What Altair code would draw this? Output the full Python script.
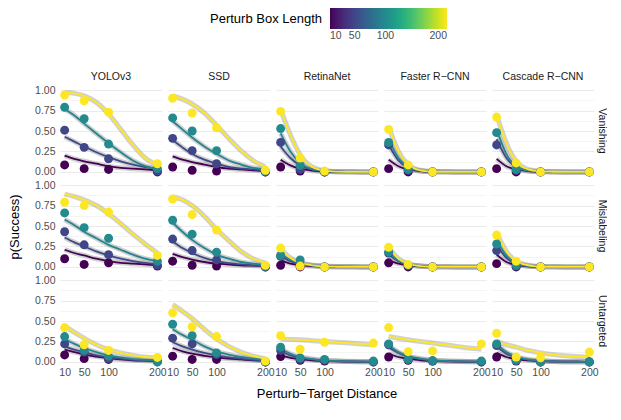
import altair as alt
import pandas as pd

MINUS = "\u2212"
models = ["YOLOv3", "SSD", "RetinaNet", "Faster R" + MINUS + "CNN", "Cascade R" + MINUS + "CNN"]
attacks = ["Vanishing", "Mislabeling", "Untargeted"]
box_lengths = [10, 50, 100, 200]
box_colors = ["#440154", "#3f4889", "#25858e", "#fde725"]
distances = [10, 50, 100, 200]
curve_x = [10, 30, 50, 75, 100, 125, 150, 175, 200]

pts_vanishing = {
    "YOLOv3": [[0.085, 0.04, 0.03, 0.0], [0.51, 0.30, 0.16, 0.01], [0.79, 0.65, 0.34, 0.04], [0.94, 0.87, 0.73, 0.10]],
    "SSD": [[0.06, 0.02, 0.01, 0.0], [0.41, 0.26, 0.10, 0.0], [0.66, 0.50, 0.26, 0.01], [0.90, 0.72, 0.54, 0.02]],
    "RetinaNet": [[0.06, 0.01, 0.0, 0.0], [0.36, 0.03, 0.0, 0.0], [0.53, 0.08, 0.0, 0.0], [0.74, 0.17, 0.01, 0.0]],
    "Faster": [[0.04, 0.0, 0.0, 0.0], [0.33, 0.02, 0.0, 0.0], [0.36, 0.03, 0.0, 0.0], [0.52, 0.085, 0.0, 0.0]],
    "Cascade": [[0.04, 0.0, 0.0, 0.0], [0.33, 0.02, 0.0, 0.0], [0.48, 0.03, 0.0, 0.0], [0.67, 0.11, 0.0, 0.0]],
}
pts_mislabeling = {
    "YOLOv3": [[0.10, 0.03, 0.05, 0.01], [0.43, 0.27, 0.15, 0.02], [0.66, 0.48, 0.35, 0.07], [0.79, 0.75, 0.67, 0.14]],
    "SSD": [[0.07, 0.02, 0.01, 0.0], [0.34, 0.20, 0.085, 0.0], [0.57, 0.40, 0.18, 0.01], [0.83, 0.64, 0.45, 0.02]],
    "RetinaNet": [[0.02, 0.0, 0.0, 0.0], [0.13, 0.02, 0.0, 0.0], [0.14, 0.085, 0.0, 0.0], [0.23, 0.01, 0.0, 0.0]],
    "Faster": [[0.05, 0.0, 0.0, 0.0], [0.17, 0.02, 0.0, 0.0], [0.18, 0.02, 0.0, 0.0], [0.24, 0.03, 0.0, 0.0]],
    "Cascade": [[0.04, 0.0, 0.0, 0.0], [0.20, 0.01, 0.0, 0.0], [0.28, 0.02, 0.0, 0.0], [0.39, 0.07, 0.0, 0.0]],
}
pts_untargeted = {
    "YOLOv3": [[0.085, 0.04, 0.03, 0.01], [0.22, 0.12, 0.04, 0.0], [0.31, 0.14, 0.07, 0.0], [0.42, 0.21, 0.14, 0.055]],
    "SSD": [[0.07, 0.03, 0.03, 0.0], [0.29, 0.22, 0.09, 0.0], [0.46, 0.32, 0.11, 0.0], [0.60, 0.43, 0.31, 0.01]],
    "RetinaNet": [[0.065, 0.02, 0.01, 0.0], [0.14, 0.03, 0.02, 0.0], [0.18, 0.05, 0.03, 0.01], [0.32, 0.155, 0.24, 0.23]],
    "Faster": [[0.06, 0.02, 0.01, 0.0], [0.21, 0.03, 0.01, 0.0], [0.22, 0.03, 0.015, 0.01], [0.42, 0.125, 0.135, 0.22]],
    "Cascade": [[0.06, 0.01, 0.0, 0.0], [0.20, 0.02, 0.0, 0.0], [0.22, 0.02, 0.0, 0.0], [0.35, 0.06, 0.05, 0.12]],
}

fit_vanishing = {
    "YOLOv3": [[0.20, 0.16, 0.13, 0.10, 0.07, 0.05, 0.04, 0.03, 0.02],
               [0.43, 0.37, 0.31, 0.24, 0.18, 0.13, 0.09, 0.06, 0.04],
               [0.77, 0.69, 0.59, 0.47, 0.35, 0.24, 0.14, 0.07, 0.03],
               [0.97, 0.96, 0.93, 0.85, 0.71, 0.52, 0.33, 0.17, 0.08]],
    "SSD": [[0.19, 0.15, 0.12, 0.09, 0.06, 0.04, 0.03, 0.02, 0.01],
            [0.39, 0.30, 0.22, 0.15, 0.10, 0.06, 0.04, 0.03, 0.02],
            [0.62, 0.52, 0.42, 0.31, 0.22, 0.14, 0.09, 0.05, 0.03],
            [0.93, 0.89, 0.83, 0.72, 0.57, 0.41, 0.26, 0.14, 0.06]],
    "RetinaNet": [[0.15, 0.08, 0.04, 0.015, 0.005, 0.002, 0.001, 0.0, 0.0],
                  [0.31, 0.17, 0.08, 0.03, 0.01, 0.003, 0.001, 0.0, 0.0],
                  [0.47, 0.25, 0.11, 0.03, 0.01, 0.003, 0.001, 0.0, 0.0],
                  [0.76, 0.45, 0.21, 0.06, 0.015, 0.004, 0.001, 0.0, 0.0]],
    "Faster": [[0.15, 0.07, 0.03, 0.01, 0.003, 0.001, 0.0, 0.0, 0.0],
               [0.33, 0.14, 0.05, 0.012, 0.003, 0.001, 0.0, 0.0, 0.0],
               [0.40, 0.17, 0.06, 0.015, 0.004, 0.001, 0.0, 0.0, 0.0],
               [0.55, 0.25, 0.09, 0.02, 0.005, 0.001, 0.0, 0.0, 0.0]],
    "Cascade": [[0.16, 0.07, 0.03, 0.01, 0.003, 0.001, 0.0, 0.0, 0.0],
                [0.40, 0.17, 0.06, 0.015, 0.004, 0.001, 0.0, 0.0, 0.0],
                [0.52, 0.22, 0.07, 0.015, 0.004, 0.001, 0.0, 0.0, 0.0],
                [0.70, 0.35, 0.13, 0.03, 0.007, 0.002, 0.0, 0.0, 0.0]],
}
fit_mislabeling = {
    "YOLOv3": [[0.21, 0.17, 0.14, 0.10, 0.07, 0.05, 0.04, 0.03, 0.02],
               [0.36, 0.30, 0.25, 0.19, 0.14, 0.10, 0.07, 0.05, 0.03],
               [0.58, 0.51, 0.43, 0.35, 0.27, 0.21, 0.15, 0.10, 0.07],
               [0.89, 0.86, 0.82, 0.75, 0.65, 0.53, 0.40, 0.28, 0.17]],
    "SSD": [[0.16, 0.12, 0.09, 0.06, 0.04, 0.03, 0.02, 0.015, 0.01],
            [0.31, 0.23, 0.17, 0.11, 0.07, 0.045, 0.03, 0.02, 0.01],
            [0.54, 0.43, 0.33, 0.23, 0.15, 0.10, 0.06, 0.04, 0.02],
            [0.86, 0.82, 0.75, 0.62, 0.46, 0.32, 0.19, 0.10, 0.05]],
    "RetinaNet": [[0.08, 0.04, 0.02, 0.01, 0.004, 0.002, 0.001, 0.0, 0.0],
                  [0.13, 0.07, 0.035, 0.015, 0.006, 0.002, 0.001, 0.0, 0.0],
                  [0.15, 0.09, 0.05, 0.02, 0.01, 0.004, 0.002, 0.001, 0.0],
                  [0.22, 0.11, 0.05, 0.02, 0.005, 0.002, 0.001, 0.0, 0.0]],
    "Faster": [[0.08, 0.04, 0.02, 0.007, 0.002, 0.001, 0.0, 0.0, 0.0],
               [0.15, 0.07, 0.03, 0.01, 0.003, 0.001, 0.0, 0.0, 0.0],
               [0.18, 0.08, 0.03, 0.01, 0.003, 0.001, 0.0, 0.0, 0.0],
               [0.24, 0.10, 0.04, 0.01, 0.003, 0.001, 0.0, 0.0, 0.0]],
    "Cascade": [[0.15, 0.06, 0.025, 0.008, 0.002, 0.001, 0.0, 0.0, 0.0],
                [0.27, 0.11, 0.04, 0.01, 0.003, 0.001, 0.0, 0.0, 0.0],
                [0.33, 0.14, 0.05, 0.012, 0.003, 0.001, 0.0, 0.0, 0.0],
                [0.42, 0.19, 0.07, 0.02, 0.005, 0.001, 0.0, 0.0, 0.0]],
}
fit_untargeted = {
    "YOLOv3": [[0.15, 0.12, 0.09, 0.065, 0.045, 0.03, 0.02, 0.015, 0.01],
               [0.19, 0.15, 0.12, 0.08, 0.055, 0.04, 0.025, 0.02, 0.012],
               [0.28, 0.22, 0.17, 0.12, 0.08, 0.055, 0.035, 0.025, 0.015],
               [0.44, 0.36, 0.29, 0.21, 0.15, 0.11, 0.08, 0.06, 0.045]],
    "SSD": [[0.17, 0.13, 0.10, 0.075, 0.055, 0.04, 0.03, 0.02, 0.015],
            [0.24, 0.19, 0.15, 0.11, 0.08, 0.055, 0.04, 0.025, 0.015],
            [0.40, 0.33, 0.27, 0.19, 0.13, 0.09, 0.06, 0.04, 0.025],
            [0.70, 0.62, 0.53, 0.40, 0.28, 0.19, 0.12, 0.07, 0.04]],
    "RetinaNet": [[0.08, 0.05, 0.035, 0.02, 0.012, 0.007, 0.004, 0.002, 0.001],
                  [0.13, 0.08, 0.05, 0.03, 0.015, 0.01, 0.005, 0.003, 0.002],
                  [0.16, 0.10, 0.06, 0.035, 0.02, 0.012, 0.007, 0.004, 0.002],
                  [0.28, 0.275, 0.27, 0.26, 0.25, 0.24, 0.23, 0.22, 0.21]],
    "Faster": [[0.10, 0.06, 0.04, 0.02, 0.012, 0.007, 0.004, 0.002, 0.001],
               [0.18, 0.11, 0.065, 0.035, 0.02, 0.012, 0.007, 0.004, 0.002],
               [0.20, 0.12, 0.07, 0.04, 0.02, 0.012, 0.007, 0.004, 0.002],
               [0.31, 0.29, 0.27, 0.25, 0.23, 0.21, 0.19, 0.17, 0.155]],
    "Cascade": [[0.11, 0.06, 0.035, 0.018, 0.01, 0.005, 0.003, 0.002, 0.001],
                [0.19, 0.10, 0.055, 0.025, 0.012, 0.006, 0.003, 0.002, 0.001],
                [0.22, 0.12, 0.065, 0.03, 0.015, 0.007, 0.003, 0.002, 0.001],
                [0.25, 0.21, 0.18, 0.14, 0.11, 0.09, 0.075, 0.065, 0.055]],
}

model_keys = ["YOLOv3", "SSD", "RetinaNet", "Faster", "Cascade"]
pts_by_attack = {"Vanishing": pts_vanishing, "Mislabeling": pts_mislabeling, "Untargeted": pts_untargeted}
fit_by_attack = {"Vanishing": fit_vanishing, "Mislabeling": fit_mislabeling, "Untargeted": fit_untargeted}

rows = []
for attack in attacks:
    for key, model in zip(model_keys, models):
        for bi, box in enumerate(box_lengths):
            for d, p in zip(curve_x, fit_by_attack[attack][key][bi]):
                rows.append({"attack": attack, "model": model, "box": box, "dist": d, "p": p, "kind": "curve"})
for attack in attacks:
    for key, model in zip(model_keys, models):
        for bi, box in enumerate(box_lengths):
            for d, p in zip(distances, pts_by_attack[attack][key][bi]):
                rows.append({"attack": attack, "model": model, "box": box, "dist": d, "p": p, "kind": "point"})
df = pd.DataFrame(rows)

FONT = "Liberation Sans"
y_values = [i / 8 for i in range(9)]

x_enc = alt.X("dist:Q",
              scale=alt.Scale(domain=[0.5, 209.5], nice=False, zero=False),
              axis=alt.Axis(values=distances, grid=False, ticks=False, domain=False,
                            title=None, labelPadding=1, minExtent=0))
y_enc = alt.Y("p:Q",
              scale=alt.Scale(domain=[-0.05, 1.05], nice=False, zero=False),
              axis=alt.Axis(values=y_values, ticks=False, domain=False,
                            labelExpr="round(datum.value*8) % 2 == 0 ? format(datum.value, '.2f') : ''",
                            gridWidth={"condition": {"test": "round(datum.value*8) % 2 == 0", "value": 1.1}, "value": 0.55},
                            title=None, labelPadding=5, minExtent=0))
color_legend = alt.Color("box:Q",
                         scale=alt.Scale(scheme="viridis", domain=[10, 200]),
                         legend=alt.Legend(title="Perturb Box Length", type="gradient", orient="none",
                                           direction="horizontal", titleOrient="left",
                                           titleAnchor="middle", titleBaseline="middle", titlePadding=7,
                                           values=box_lengths, gradientLength=117, gradientThickness=21,
                                           legendX=150, legendY=-78))

base = alt.Chart()
band = base.mark_line(color="#9a9a9a", opacity=0.45, strokeWidth=5, interpolate="monotone").encode(
    x=x_enc, y=y_enc, detail="box:N").transform_filter("datum.kind == 'curve'")
line_layers = [
    base.mark_line(strokeWidth=1.8, interpolate="monotone", color=col).encode(x=x_enc, y=y_enc)
    .transform_filter(f"datum.kind == 'curve' && datum.box == {box}")
    for box, col in zip(box_lengths, box_colors)
]
pts = base.mark_circle(size=80, opacity=1).encode(
    x=x_enc, y=y_enc, color=color_legend).transform_filter("datum.kind == 'point'")

layered = alt.layer(band, *line_layers, pts, data=df).properties(width=102, height=90)

chart = layered.facet(
    row=alt.Row("attack:N", sort=attacks,
                header=alt.Header(title="p(Success)", titleOrient="left", titleFontSize=13,
                                  titleFont=FONT, titleColor="#000000", titleFontWeight="normal",
                                  titlePadding=2,
                                  labelOrient="right", labelAngle=90, labelFontSize=10.5,
                                  labelColor="#1a1a1a", labelFont=FONT, labelPadding=2)),
    column=alt.Column("model:N", sort=models,
                      header=alt.Header(title="Perturb" + MINUS + "Target Distance", titleOrient="bottom",
                                        titleFontSize=13, titleFont=FONT, titleColor="#000000",
                                        titleFontWeight="normal", titlePadding=0,
                                        labelOrient="top", labelFontSize=10.5, labelColor="#1a1a1a",
                                        labelFont=FONT, labelPadding=4)),
    spacing={"row": 5, "column": 6},
    bounds="flush",
).configure_view(stroke=None).configure_axis(
    labelFont=FONT, labelFontSize=10.5, labelColor="#4d4d4d", gridColor="#ebebeb",
).configure_legend(
    labelFont=FONT, titleFont=FONT, labelFontSize=10.5, labelColor="#4d4d4d",
    titleFontSize=13, titleFontWeight="normal", titleColor="#000000",
).properties(padding={"left": 0, "top": 0, "right": 0, "bottom": 0}, background="#ffffff")

chart.save("out.html", embed_options={"renderer": "svg", "actions": False})
